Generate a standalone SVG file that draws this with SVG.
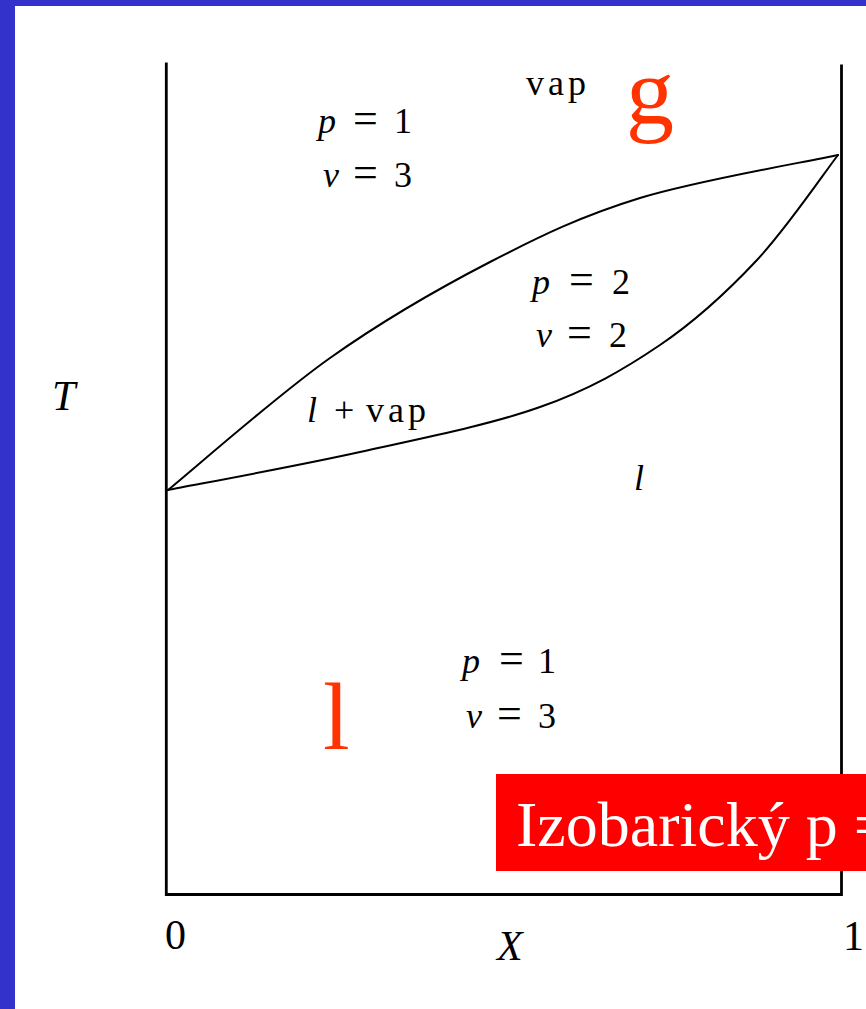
<svg xmlns="http://www.w3.org/2000/svg" width="866" height="1009" viewBox="0 0 866 1009">
<style>
.ax{fill:none;stroke:#000;stroke-width:2.8;stroke-linecap:square}
.cv{fill:none;stroke:#000;stroke-width:2;stroke-linejoin:round;stroke-linecap:round}
.m{font-family:"Liberation Serif","Times New Roman",serif;font-size:36px;fill:#000}
.eq{font-size:44px}
.ml{font-family:"Liberation Serif","Times New Roman",serif;font-size:42px;fill:#000}
.i{font-style:italic}
.sp{letter-spacing:4px}
.big{font-family:"Liberation Serif","Times New Roman",serif;font-size:96px;fill:#FF3300}
.box{font-family:"Liberation Serif","Times New Roman",serif;font-size:64px;fill:#fff}
</style>
<rect x="0" y="0" width="866" height="1009" fill="#fff"/>
<rect x="0" y="0" width="866" height="6" fill="#3333CC"/>
<rect x="0" y="0" width="15" height="1009" fill="#3333CC"/>
<g id="axes">
<path class="ax" d="M166.3,64 V894.5 H841.5 V66"/>
</g>
<g id="curves">
<path class="cv" d="M168,490 C195,468 276.3,396 330,358 C383.7,320 438.3,288.7 490,262 C541.7,235.3 582,215.8 640,198 C698,180.2 805,162.2 838,155"/>
<path class="cv" d="M168,490 C200,483.7 298,465.8 360,452 C422,438.2 490,424.8 540,407 C590,389.2 623.8,369.5 660,345 C696.2,320.5 727.3,291.7 757,260 C786.7,228.3 824.5,172.5 838,155"/>
</g>
<g id="label-vap-top"><text class="m sp" x="526" y="95">vap</text></g>
<g id="label-g"><text class="big" x="626" y="124">g</text></g>
<g id="label-p1v3-top">
<text class="m"><tspan class="i" x="318" y="133">p</tspan><tspan class="eq" x="353" y="133">=</tspan><tspan x="394" y="133">1</tspan></text>
<text class="m"><tspan class="i" x="323" y="187">v</tspan><tspan class="eq" x="353" y="187">=</tspan><tspan x="394" y="187">3</tspan></text>
</g>
<g id="label-p2v2">
<text class="m"><tspan class="i" x="532" y="294">p</tspan><tspan class="eq" x="569" y="294">=</tspan><tspan x="612" y="294">2</tspan></text>
<text class="m"><tspan class="i" x="536" y="347">v</tspan><tspan class="eq" x="567" y="347">=</tspan><tspan x="609" y="347">2</tspan></text>
</g>
<g id="label-lvap"><text class="m"><tspan class="i" x="307" y="422">l</tspan><tspan x="334" y="422">+</tspan><tspan class="sp" x="366" y="422">vap</tspan></text></g>
<g id="label-l"><text class="m i" x="634" y="490">l</text></g>
<g id="label-T"><text class="ml i" x="52" y="410">T</text></g>
<g id="label-p1v3-bottom">
<text class="m"><tspan class="i" x="462" y="673">p</tspan><tspan class="eq" x="499" y="673">=</tspan><tspan x="538" y="673">1</tspan></text>
<text class="m"><tspan class="i" x="466" y="728">v</tspan><tspan class="eq" x="497" y="728">=</tspan><tspan x="538" y="728">3</tspan></text>
</g>
<g id="label-l-red"><text class="big" x="323" y="749">l</text></g>
<g id="box">
<rect x="496" y="774" width="370" height="97" fill="#FF0000"/>
<text class="box" x="516" y="846">Izobarický p =</text>
</g>
<g id="label-0"><text class="ml" x="165" y="949">0</text></g>
<g id="label-X"><text class="ml i" x="497" y="960">X</text></g>
<g id="label-1"><text class="ml" x="843" y="950">1</text></g>
</svg>
